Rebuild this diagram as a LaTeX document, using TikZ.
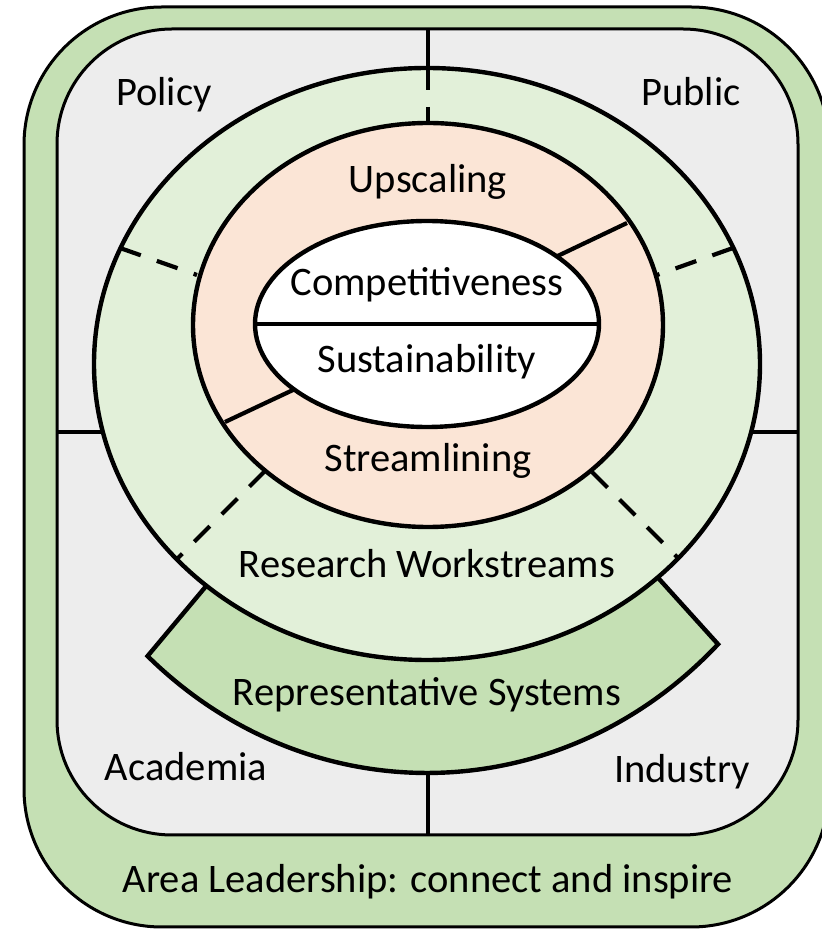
\documentclass[tikz,border=0pt]{standalone}
\usepackage{fontspec}
\setmainfont{Carlito}
\definecolor{leadgreen}{HTML}{C5E0B4}
\definecolor{ringgreen}{HTML}{E2F0D9}
\definecolor{peachfill}{HTML}{FBE5D6}
\definecolor{quadgrey}{HTML}{EDEDED}
\begin{document}
\begin{tikzpicture}[x=1pt,y=1pt,
  lbl/.style={anchor=base, inner sep=0pt, font=\fontsize{40.5}{48}\selectfont},
  divline/.style={line width=4.2pt},
  dashline/.style={line width=4.2pt, dash pattern=on 22pt off 17pt},
  segline/.style={line width=4.2pt},
  ringline/.style={line width=4.4pt}]
\useasboundingbox (0,0) rectangle (822,930);
% outer leadership frame
\draw[fill=leadgreen, line width=3pt, rounded corners=138pt] (24,3) rectangle (829,923);
% inner quadrant panel
\draw[fill=quadgrey, line width=3pt, rounded corners=115pt] (57,95) rectangle (798,901);
% quadrant dividers
\draw[divline] (428,901) -- (428,95);
\draw[divline] (57,498) -- (798,498);
% representative systems band
\draw[fill=leadgreen, ringline, line join=miter] (427,608) -- ([shift={(427,608)}]227.8:416 and 451) arc[start angle=227.8, end angle=314.4, x radius=416, y radius=451] -- cycle;
% research workstreams ring
\draw[fill=ringgreen, ringline] (427,566) ellipse [x radius=333, y radius=296];
\draw[divline] (428,862) -- (428,842);
\draw[dashline] (428,862) -- (428,807);
\draw[dashline] (120,682) -- (197,655);
\draw[dashline] (733,682) -- (657,655);
\draw[dashline] (265,459) -- (178,372);
\draw[dashline] (592,458) -- (677,373);
% upscaling / streamlining ring
\draw[fill=peachfill, ringline] (428,605) ellipse [x radius=235, y radius=202];
\draw[segline] (545,668) -- (627,707);
\draw[segline] (310,548) -- (225,508);
% core
\draw[fill=white, ringline] (427,606) ellipse [x radius=172, y radius=103];
\draw[ringline] (255,606) -- (599,606);
% labels
\node[lbl] (policy) at (164,824) {Policy};
\node[lbl] (public) at (691,824) {Public};
\node[lbl] (upscaling) at (428,737) {Upscaling};
\node[lbl] (compet) at (427,634) {Competitiveness};
\node[lbl] (sustain) at (427,557) {Sustainability};
\node[lbl] (stream) at (428,458) {Streamlining};
\node[lbl] (research) at (427,352) {Research Workstreams};
\node[lbl] (repsys) at (427,224) {Representative Systems};
\node[lbl] (academia) at (186,149) {Academia};
\node[lbl] (industry) at (682,147) {Industry};
\node[lbl] (leader) at (428,37) {Area Leadership: connect and inspire};
\end{tikzpicture}
\end{document}
